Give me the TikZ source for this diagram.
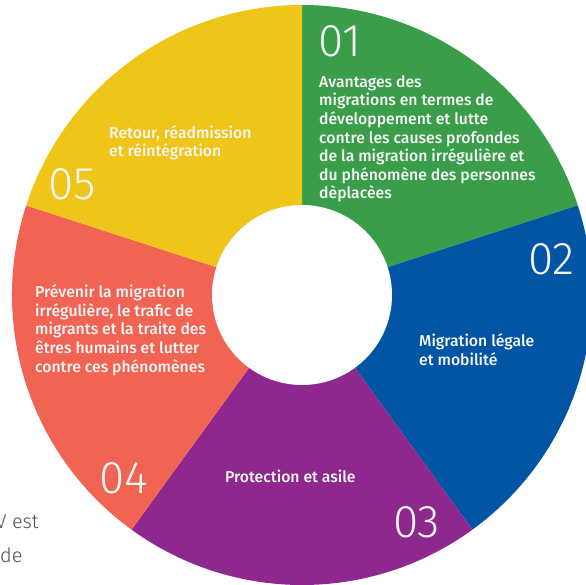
\documentclass[tikz,border=0pt]{standalone}
\usepackage{fontspec}
\setmainfont{Fira Sans}[UprightFont={* Medium}]
\newfontfamily\numfont{Fira Sans}[UprightFont={* Light}]
\newfontfamily\pagefont{Fira Sans}[UprightFont={* Light}]

\definecolor{ringgreen}{RGB}{58,157,74}
\definecolor{ringblue}{RGB}{2,84,164}
\definecolor{ringpurple}{RGB}{142,40,142}
\definecolor{ringcoral}{RGB}{241,99,82}
\definecolor{ringyellow}{RGB}{239,197,26}
\definecolor{segtext}{RGB}{246,246,246}
\definecolor{pagetext}{RGB}{80,80,80}

\begin{document}
\begin{tikzpicture}[x=1bp,y=1bp,
    seglabel/.style={anchor=base west,align=left,inner sep=0,text=segtext,
      font=\fontsize{15.8}{18.7}\selectfont},
    segnum/.style={anchor=base west,inner sep=0,text=segtext,
      font=\numfont\fontsize{46}{46}\selectfont}]
  \useasboundingbox (-302,-290) rectangle (284,295);
  % the five parts of the ring
  \fill[ringgreen] (0,0) -- (90:290) arc[start angle=90,end angle=18,radius=290] -- cycle;
  \fill[ringblue] (0,0) -- (18:290) arc[start angle=18,end angle=-54,radius=290] -- cycle;
  \fill[ringpurple] (0,0) -- (-54:290) arc[start angle=-54,end angle=-126,radius=290] -- cycle;
  \fill[ringcoral] (0,0) -- (-126:290) arc[start angle=-126,end angle=-198,radius=290] -- cycle;
  \fill[ringyellow] (0,0) -- (162:290) arc[start angle=162,end angle=90,radius=290] -- cycle;
  \fill[white] (0,0) circle (90);
  % numbers
  \node[segnum] (num01) at (16,238) {01};
  \node[segnum] (num02) at (226,20) {02};
  \node[segnum] (num03) at (91,-242) {03};
  \node[segnum] (num04) at (-203,-198) {04};
  \node[segnum] (num05) at (-254,95) {05};
  % texts (base = last line)
  \node[seglabel] (txt01) at (17,96) {Avantages des\\migrations en termes de\\d\'eveloppement et lutte\\contre les causes profondes\\de la migration irr\'eguli\`ere et\\du ph\'enom\`ene des personnes\\d\`eplac\`ees};
  \node[seglabel] (txt02) at (117,-70) {Migration l\'egale\\et mobilit\'e};
  \node[seglabel] (txt03) at (-77,-187) {Protection et asile};
  \node[seglabel] (txt04) at (-267,-77) {Pr\'evenir la migration\\irr\'eguli\`ere, le trafic de\\migrants et la traite des\\\^etres humains et lutter\\contre ces ph\'enom\`enes};
  \node[seglabel] (txt05) at (-193,138) {Retour, r\'eadmission\\et r\'eint\'egration};
  % bits of the page text beside the ring
  \node[anchor=base east,inner sep=0,text=pagetext,font=\pagefont\fontsize{20}{24}\selectfont] (pageA) at (-263,-233) {V est};
  \node[anchor=base west,inner sep=0,text=pagetext,font=\pagefont\fontsize{20}{24}\selectfont] (pageB) at (-302,-267) {de};
\end{tikzpicture}
\end{document}
